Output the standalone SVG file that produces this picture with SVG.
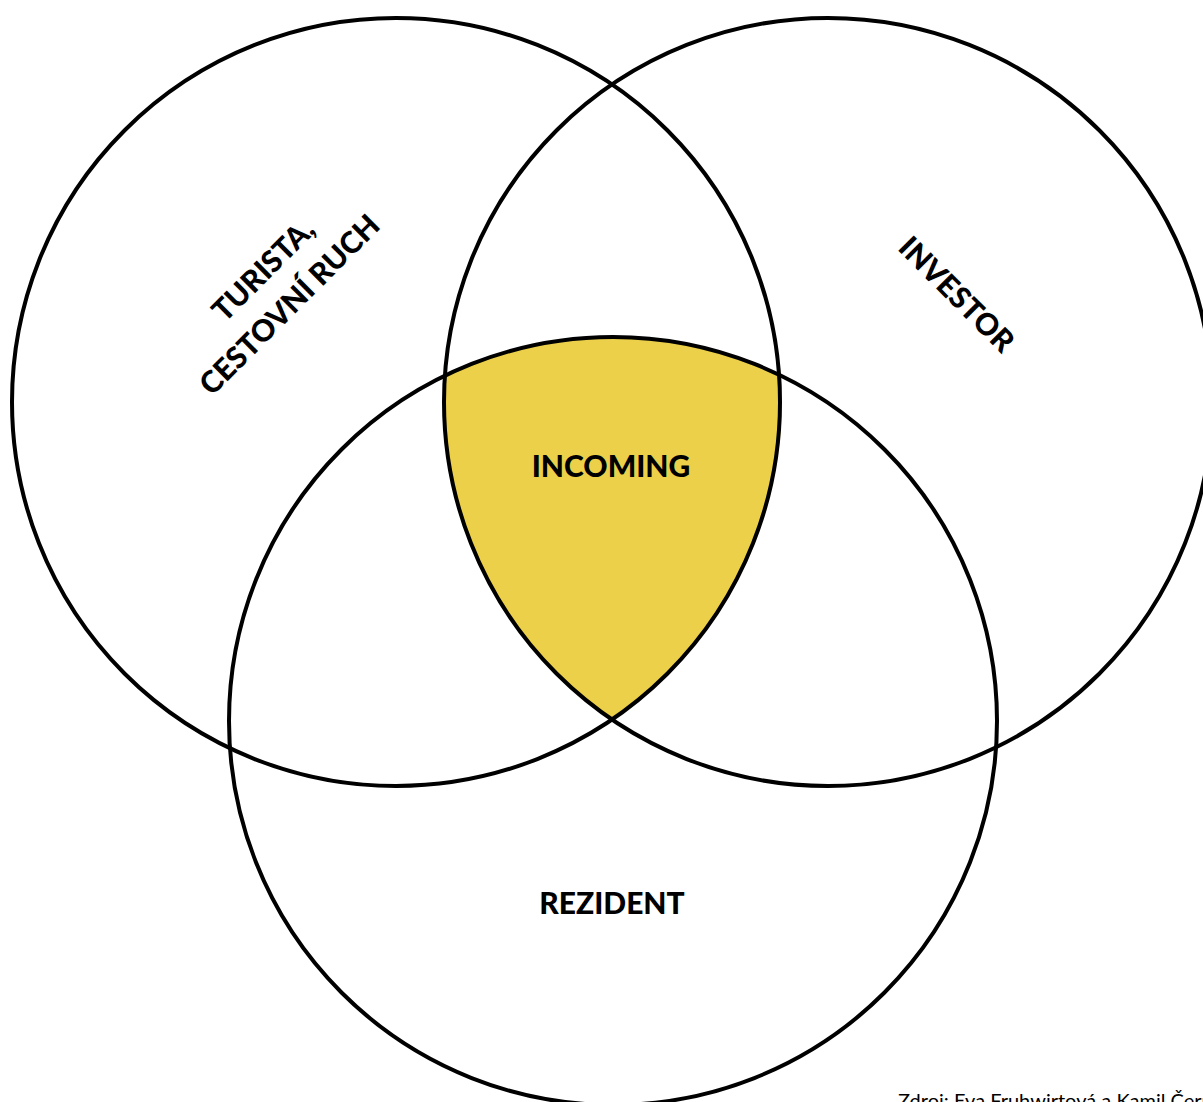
<svg xmlns="http://www.w3.org/2000/svg" width="1203" height="1102" viewBox="0 0 1203 1102">
<style>
.c{fill:none;stroke:#000;stroke-width:4}
.t{font-family:Lato,"Open Sans","DejaVu Sans",sans-serif;font-weight:900;font-size:30px;fill:#000;text-anchor:middle}
.f{font-family:Lato,"Open Sans",sans-serif;font-weight:400;font-size:20px;fill:#000}
</style>
<rect width="1203" height="1102" fill="#fff"/>
<g id="incoming">
<path d="M 444.9 375.7 A 384 384 0 0 1 781.1 375.7 A 384 384 0 0 1 612 719.5 A 384 384 0 0 1 444.9 375.7 Z" fill="#ECD04A"/>
<text class="t" x="611" y="477">INCOMING</text>
</g>
<g id="connectors">
<circle id="turista" class="c" cx="396" cy="402" r="384"/>
<circle id="investor" class="c" cx="828" cy="402" r="384"/>
<circle id="rezident" class="c" cx="613" cy="721" r="384"/>
</g>
<g id="label-turista" transform="translate(277,288) rotate(-45)">
<text class="t" x="3" y="-12">TURISTA,</text>
<text class="t" x="-3" y="31">CESTOVNÍ RUCH</text>
</g>
<g id="label-investor" transform="translate(957,294) rotate(45)">
<text class="t" x="0" y="11">INVESTOR</text>
</g>
<g id="label-rezident">
<text class="t" x="612" y="914">REZIDENT</text>
</g>
<text class="f" x="898" y="1108">Zdroj: Eva Fruhwirtová a Kamil Černý</text>
</svg>
